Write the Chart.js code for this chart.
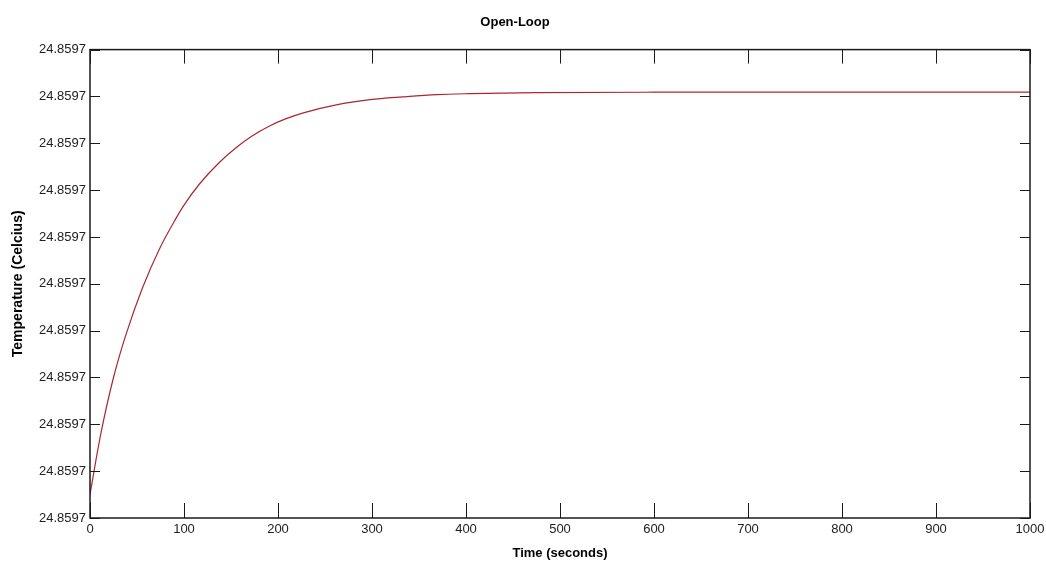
<!DOCTYPE html>
<html lang="en">
<head>
    <meta charset="UTF-8">
    <title>Open-Loop</title>
    <style>
        body {
            margin: 0;
            background: #fff;
        }

        .wrap {
            width: 1046px;
            height: 567px;
            position: relative;
        }
    </style>
    <script src="https://cdn.jsdelivr.net/npm/chart.js"></script>
</head>
<body>
    <div class="wrap">
        <canvas id="tempChart"></canvas>
    </div>

    <script>
        // time axis (s) and temperature, in y-tick steps above the bottom tick
        const timeSec = [0, 6, 12, 25, 38, 56, 74, 91, 100, 116, 137, 155, 172, 191, 208, 227, 262, 298, 333, 369, 404, 475, 600, 800, 1000];
        const tempSteps = [0.5, 1.2, 1.85, 3.0, 3.9, 4.92, 5.75, 6.38, 6.68, 7.12, 7.58, 7.9, 8.15, 8.37, 8.52, 8.65, 8.82, 8.93, 8.99, 9.04, 9.06, 9.08, 9.09, 9.09, 9.09];

        const xTicks = [0, 100, 200, 300, 400, 500, 600, 700, 800, 900, 1000];
        const yTickLabels = ['24.8597', '24.8597', '24.8597', '24.8597', '24.8597', '24.8597',
            '24.8597', '24.8597', '24.8597', '24.8597', '24.8597'];

        const sans = "'Liberation Sans Narrow', 'Liberation Sans', Arial, sans-serif";

        // matlab style box with inward tick marks
        const boxTicks = {
            id: 'boxTicks',
            afterDraw(chart) {
                const { ctx, chartArea: a, scales } = chart;
                ctx.save();
                ctx.strokeStyle = '#1a1a1a';
                ctx.lineWidth = 1.5;
                ctx.strokeRect(a.left, a.top, a.right - a.left, a.bottom - a.top);
                ctx.lineWidth = 1;
                ctx.beginPath();
                xTicks.forEach(v => {
                    const px = Math.round(scales.x.getPixelForValue(v)) + 0.5;
                    ctx.moveTo(px, a.bottom); ctx.lineTo(px, a.bottom - 15);
                    ctx.moveTo(px, a.top); ctx.lineTo(px, a.top + 14);
                });
                yTickLabels.forEach((_, i) => {
                    const py = Math.round(scales.y.getPixelForValue(i)) + 0.5;
                    ctx.moveTo(a.left, py); ctx.lineTo(a.left + 10, py);
                    ctx.moveTo(a.right, py); ctx.lineTo(a.right - 10, py);
                });
                ctx.stroke();
                ctx.restore();
            }
        };

        new Chart(document.getElementById('tempChart'), {
            type: 'line',
            data: {
                datasets: [{
                    data: timeSec.map((t, i) => ({ x: t, y: tempSteps[i] })),
                    borderColor: '#a82832',
                    borderWidth: 1.2,
                    pointRadius: 0,
                    fill: false,
                    cubicInterpolationMode: 'monotone'
                }]
            },
            options: {
                responsive: true,
                maintainAspectRatio: false,
                animation: false,
                layout: { padding: { left: 0, right: 16, top: 0, bottom: 0 } },
                plugins: {
                    legend: { display: false },
                    tooltip: { enabled: false },
                    title: {
                        display: true,
                        text: 'Open-Loop',
                        color: '#000',
                        font: { family: sans, size: 13, weight: 'bold' },
                        padding: { top: 15, bottom: 19 }
                    }
                },
                scales: {
                    x: {
                        type: 'linear',
                        min: 0,
                        max: 1000,
                        grid: { display: false, drawTicks: false },
                        border: { display: false },
                        ticks: {
                            stepSize: 100,
                            padding: 4,
                            color: '#222',
                            font: { family: sans, size: 13 },
                            maxRotation: 0,
                            callback: v => String(v)
                        },
                        title: {
                            display: true,
                            text: 'Time (seconds)',
                            color: '#000',
                            font: { family: sans, size: 13, weight: 'bold' },
                            padding: { top: 6, bottom: 6 }
                        },
                        afterFit(scale) {
                            scale.height = 49;
                            scale.paddingRight = 0;
                        }
                    },
                    y: {
                        min: 0,
                        max: 10,
                        grid: { display: false, drawTicks: false },
                        border: { display: false },
                        ticks: {
                            stepSize: 1,
                            padding: 4,
                            color: '#222',
                            font: { family: sans, size: 13 },
                            callback: (v, i) => yTickLabels[i]
                        },
                        title: {
                            display: true,
                            text: 'Temperature (Celcius)',
                            color: '#000',
                            font: { family: "'Liberation Sans', Arial, sans-serif", size: 14, weight: 'bold' },
                            padding: { top: 10, bottom: 10 }
                        },
                        afterFit(scale) { scale.width = 90; }
                    }
                }
            },
            plugins: [boxTicks]
        });
    </script>
</body>
</html>
